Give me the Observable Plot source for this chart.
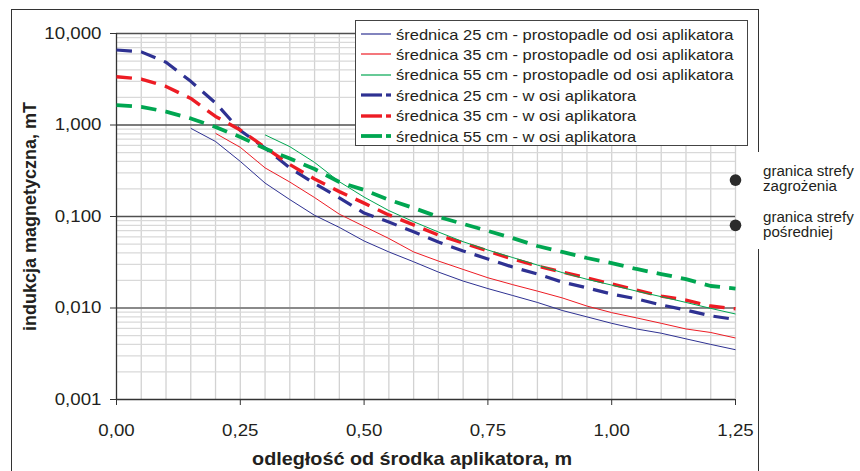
<!DOCTYPE html>
<html><head><meta charset="utf-8">
<script src="https://cdn.jsdelivr.net/npm/d3@7"></script>
<script src="https://cdn.jsdelivr.net/npm/@observablehq/plot@0.6"></script>
<style>
body{margin:0;background:#fff;font-family:"Liberation Sans",Arial,sans-serif;color:#231f20;}
#wrap{position:relative;width:860px;height:471px;overflow:hidden;background:#fff;}
#chart{position:absolute;left:0;top:0;}
#frame{position:absolute;left:11px;top:9px;width:746px;height:490px;border:1.5px solid #333;pointer-events:none;}
#legend{position:absolute;left:355px;top:20px;width:391px;height:124px;border:1px solid #444;background:#fff;}
.row{position:absolute;left:0;height:20px;display:flex;align-items:center;font-size:15px;white-space:nowrap;}
.row svg{margin-left:5px;margin-right:5px;flex:none;}
.row span{display:inline-block;transform:scaleX(1.1);transform-origin:left center;}
#zones{position:absolute;left:752px;top:152px;width:108px;height:97px;background:#fff;}
.zone{position:absolute;left:11px;font-size:14px;line-height:15px;white-space:nowrap;transform:scaleX(1.08);transform-origin:left top;}
</style></head><body>
<div id="wrap"><div id="chart"></div><div id="frame"></div><div id="legend"></div>
<div id="zones"></div></div>
<script>
// distance from applicator centre, m
const distances = [0.00,0.05,0.10,0.15,0.20,0.25,0.30,0.35,0.40,0.45,0.50,0.55,0.60,0.65,0.70,0.75,0.80,0.85,0.90,0.95,1.00,1.05,1.10,1.15,1.20,1.25];
// "w osi aplikatora" (dashed), full range
const blueDash  = [6.6,6.3,4.85,3.0,1.74,0.87,0.56,0.34,0.23,0.16,0.109,0.087,0.068,0.0526,0.042,0.0344,0.028,0.0235,0.0192,0.0166,0.0142,0.0126,0.0108,0.0095,0.0082,0.0075];
const redDash   = [3.37,3.18,2.64,1.95,1.24,0.88,0.57,0.37,0.257,0.187,0.14,0.104,0.081,0.0628,0.0513,0.042,0.0343,0.0288,0.0247,0.0213,0.0183,0.0157,0.0135,0.0122,0.0105,0.0098];
const greenDash = [1.65,1.58,1.40,1.18,0.95,0.74,0.553,0.43,0.33,0.238,0.195,0.152,0.124,0.099,0.083,0.0695,0.058,0.0476,0.041,0.0352,0.031,0.0267,0.0235,0.0207,0.0174,0.0163];
// "prostopadle od osi aplikatora" (solid), starting later
const blueSolidX  = [0.15,0.20,0.25,0.30,0.35,0.40,0.45,0.50,0.55,0.60,0.65,0.70,0.75,0.80,0.85,0.90,0.95,1.00,1.05,1.10,1.15,1.20,1.25];
const blueSolid   = [0.92,0.66,0.40,0.232,0.153,0.103,0.076,0.054,0.041,0.032,0.0247,0.0197,0.0163,0.0137,0.0115,0.0094,0.008,0.0068,0.0059,0.0053,0.0046,0.004,0.0035];
const redSolidX   = [0.20,0.25,0.30,0.35,0.40,0.45,0.50,0.55,0.60,0.65,0.70,0.75,0.80,0.85,0.90,0.95,1.00,1.05,1.10,1.15,1.20,1.25];
const redSolid    = [0.81,0.57,0.34,0.238,0.161,0.106,0.078,0.0575,0.041,0.0326,0.0264,0.0214,0.018,0.0153,0.0129,0.0105,0.0089,0.0078,0.0068,0.0059,0.0054,0.0047];
const greenSolidX = [0.30,0.35,0.40,0.45,0.50,0.55,0.60,0.65,0.70,0.75,0.80,0.85,0.90,0.95,1.00,1.05,1.10,1.15,1.20,1.25];
const greenSolid  = [0.78,0.58,0.39,0.24,0.163,0.116,0.0877,0.0677,0.053,0.043,0.0356,0.0295,0.0244,0.0206,0.0178,0.0153,0.0133,0.0115,0.0099,0.0086];
// zone limits (points at right edge)
const zoneX = [1.25,1.25];
const zoneY = [0.25,0.08];
const zoneLabels = [["granica strefy","zagrożenia"],["granica strefy","pośredniej"]];
// axes
const xTicks = [0,0.25,0.5,0.75,1.0,1.25];
const yTicks = [0.001,0.01,0.1,1,10];
const xMinor = [0.05,0.10,0.15,0.20,0.25,0.30,0.35,0.40,0.45,0.50,0.55,0.60,0.65,0.70,0.75,0.80,0.85,0.90,0.95,1.00,1.05,1.10,1.15,1.20,1.25];
const yMinorMult = [2,3,4,5,6,7,8,9];
const yDecades = [0.001,0.01,0.1,1];
const xTitle = "odległość od środka aplikatora, m";
const yTitle = "indukcja magnetyczna, mT";

const seriesNames = [
  "średnica 25 cm - prostopadle od osi aplikatora",
  "średnica 35 cm - prostopadle od osi aplikatora",
  "średnica 55 cm - prostopadle od osi aplikatora",
  "średnica 25 cm - w osi aplikatora",
  "średnica 35 cm - w osi aplikatora",
  "średnica 55 cm - w osi aplikatora"];
const BLUE="#2e3192", RED="#ed1c24", GREEN="#00a651";
const styles = [
  {stroke:BLUE,w:1,dash:null},{stroke:RED,w:1,dash:null},{stroke:GREEN,w:1,dash:null},
  {stroke:BLUE,w:3.2,dash:"15.5,9.2"},{stroke:RED,w:3.4,dash:"15.5,9.2"},{stroke:GREEN,w:3.8,dash:"15.5,9.2"}];

const toRows = (xs, ys) => xs.map((x,i)=>({x, y: ys[i]}));
const dataSets = [
  toRows(blueSolidX, blueSolid), toRows(redSolidX, redSolid), toRows(greenSolidX, greenSolid),
  toRows(distances, blueDash), toRows(distances, redDash), toRows(distances, greenDash)];

const yMinor = yDecades.flatMap(d => yMinorMult.map(m => d*m));
const fmtY = d => d.toFixed(3).replace(".", ",");
const fmtX = d => d.toFixed(2).replace(".", ",");

const lineMarks = [];
for (const i of [3,4,5,0,1,2]) {
  const s = styles[i];
  lineMarks.push(Plot.line(dataSets[i], {x:"x", y:"y", stroke:s.stroke, strokeWidth:s.w,
    strokeDasharray: s.dash || undefined, strokeLinecap:"butt", strokeLinejoin:"miter", curve:"linear"}));
}

const chart = Plot.plot({
  width: 860, height: 471,
  marginLeft: 116, marginRight: 125, marginTop: 33, marginBottom: 72,
  style: {fontFamily: "Liberation Sans, Arial, sans-serif", color: "#231f20", background: "transparent"},
  x: {domain: [0, 1.25]},
  y: {type: "log", domain: [0.001, 10]},
  marks: [
    Plot.ruleX(xMinor, {stroke: "#d2d2d2", strokeWidth: 1.3}),
    Plot.ruleY(yMinor, {stroke: "#d9d9d9", strokeWidth: 1.3}),
    Plot.ruleY([10, 1, 0.1], {stroke: "#505050", strokeWidth: 1.4}),
    Plot.ruleY([0.01], {stroke: "#8a8a8a", strokeWidth: 2}),
    Plot.ruleX([0], {stroke: "#333", strokeWidth: 1.3}),
    Plot.ruleY([0.001], {stroke: "#333", strokeWidth: 1.3}),
    Plot.axisY(yTicks, {tickFormat: fmtY, tickSize: 6, tickPadding: 9, fontSize: 17, label: null, stroke: "#333"}),
    Plot.axisX(xTicks, {tickFormat: fmtX, tickSize: 6, tickPadding: 18, fontSize: 17, label: null, stroke: "#333"}),
    ...lineMarks,
    Plot.dot(zoneX.map((x,i)=>({x, y: zoneY[i]})), {x:"x", y:"y", r: 5.8, fill: "#2b2b2b", stroke: "none"}),
    Plot.text([yTitle], {frameAnchor: "left", textAnchor: "middle", dx: -86, rotate: -90, fontWeight: "bold", fontSize: 18, fill: "#231f20"}),
    Plot.text([xTitle], {frameAnchor: "bottom", textAnchor: "middle", dy: 65, dx: -14, fontWeight: "bold", fontSize: 18, fill: "#231f20"})
  ]
});
// slight horizontal stretch of upright texts to match the reference's wide lettering
d3.select(chart).selectAll("text").each(function() {
  const t = this.getAttribute("transform") || "";
  if (!t.includes("rotate")) this.setAttribute("transform", (t + " scale(1.1,1)").trim());
});
document.getElementById("chart").appendChild(chart);

// legend
const legend = document.getElementById("legend");
seriesNames.forEach((name, i) => {
  const s = styles[i];
  const row = document.createElement("div");
  row.className = "row";
  row.style.top = (3 + i*20.4) + "px";
  let sw;
  if (!s.dash) {
    sw = `<svg width="30" height="10"><line x1="0" y1="5" x2="30" y2="5" stroke="${s.stroke}" stroke-width="1.2"/></svg>`;
  } else {
    sw = `<svg width="30" height="10"><line x1="0" y1="5" x2="21" y2="5" stroke="${s.stroke}" stroke-width="${s.w}"/><line x1="25" y1="5" x2="30" y2="5" stroke="${s.stroke}" stroke-width="${s.w}"/></svg>`;
  }
  row.innerHTML = sw + `<span>${name}</span>`;
  legend.appendChild(row);
});

// zone labels
const zones = document.getElementById("zones");
zoneLabels.forEach((lines, i) => {
  const d = document.createElement("div");
  d.className = "zone";
  d.style.top = (12 + i*46) + "px";
  d.innerHTML = lines.join("<br>");
  zones.appendChild(d);
});
</script>
</body></html>
